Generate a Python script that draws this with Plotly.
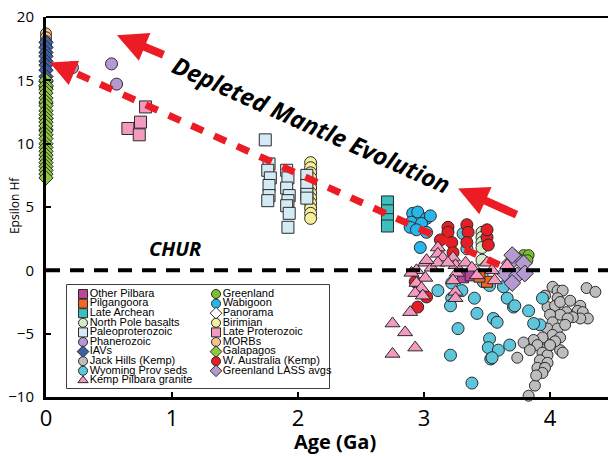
import plotly.graph_objects as go

# ---------------- data (Age in Ga, epsilon Hf) ----------------
morbs_age = [0, 0, 0, 0]
morbs_eps = [18.7, 18.4, 18.1, 17.8]

iavs_age = [0, 0, 0, 0, 0, 0, 0, 0, 0, 0, 0, 0, 0]
iavs_eps = [18.0, 17.6, 17.2, 16.9, 16.5, 16.2, 15.8, 15.3, 14.9, 14.5, 13.2, 12.0, 11.1]

galap_age = [0, 0, 0, 0, 0, 0, 0, 0, 0, 0, 0, 0, 0, 0, 0, 0, 0, 0, 0, 0, 0, 0, 0, 0, 0]
galap_eps = [15.0, 14.6, 14.3, 14.0, 13.6, 13.3, 13.0, 12.6, 12.3, 12.0, 11.7, 11.4, 11.0,
             10.7, 10.4, 10.0, 9.7, 9.4, 9.1, 8.8, 8.5, 8.2, 7.9, 7.6, 7.3]

phan_age = [0.21, 0.52, 0.56]
phan_eps = [16.0, 16.3, 14.7]

lprot_age = [0.79, 0.75, 0.65, 0.74]
lprot_eps = [12.9, 11.7, 11.2, 10.7]

birim_age = [2.10, 2.10, 2.10, 2.10, 2.10, 2.10, 2.10, 2.10, 2.10, 2.10, 2.10, 2.10]
birim_eps = [8.5, 8.1, 7.7, 7.3, 6.9, 6.5, 6.1, 5.7, 5.3, 4.9, 4.5, 4.1]

paleo_age = [1.74, 1.77, 1.76, 1.78, 1.77, 1.77, 1.76,
             1.91, 1.92, 1.91, 1.93, 1.92, 1.91, 1.93, 1.92,
             2.07, 2.07, 2.07, 2.07]
paleo_eps = [10.3, 8.4, 7.9, 7.3, 6.7, 5.9, 5.5,
             7.9, 7.3, 6.5, 5.9, 5.5, 5.1, 4.5, 3.4,
             7.5, 6.7, 6.0, 5.7]

larch_age = [2.71, 2.71, 2.71, 2.71]
larch_eps = [5.4, 4.7, 4.0, 3.5]

jack_age = [4.02, 4.06, 4.10, 4.29, 4.06, 3.98, 4.04, 4.08, 4.13, 4.08, 4.00, 4.24, 4.22,
            4.26, 4.30, 4.24, 4.18, 4.14, 4.02, 3.98, 4.06, 4.12, 4.02, 4.08, 3.94, 3.87,
            3.79, 3.90, 3.98, 4.08, 3.94, 3.98, 3.92, 3.98, 3.90, 3.96, 3.94, 3.74, 4.10,
            3.88, 3.83, 4.36, 3.96, 4.16, 4.04, 3.84, 3.89, 4.00]
jack_eps = [-1.3, -1.6, -1.6, -1.4, -2.2, -2.9, -2.8, -2.5, -3.3, -3.5, -3.5, -2.8, -3.2,
            -3.3, -3.8, -3.8, -3.7, -3.8, -4.1, -4.6, -4.6, -4.3, -5.1, -5.3, -5.3, -5.5,
            -5.7, -5.9, -6.1, -6.3, -6.5, -6.7, -7.1, -7.3, -7.7, -7.7, -8.1, -6.9, -6.5,
            -9.1, -9.9, -1.7, -2.0, -2.4, -5.6, -6.3, -8.3, -5.9]

wyo_age = [3.31, 3.34, 3.11, 3.22, 3.30, 3.40, 3.42, 3.55, 3.58, 3.27, 3.21, 3.52, 3.51,
           3.59, 3.68, 3.53, 3.38, 3.66, 3.71, 3.83, 3.94, 3.92, 3.87, 3.22, 3.52,
           3.21, 3.63, 3.47, 3.54, 3.72]
wyo_eps = [2.9, 1.7, -1.6, -2.2, -1.6, -2.2, -3.4, -3.8, -4.1, -4.6, -6.7, -5.4, -6.1,
           -6.3, -5.9, -7.0, -8.9, -2.2, -2.9, -3.2, -2.2, -4.3, -4.2, -1.0, -1.2,
           -2.8, -1.3, -0.9, -6.9, -2.8]

wabi_age = [2.91, 2.95, 3.02, 2.90, 2.98, 2.89, 2.94, 3.02, 2.97, 3.05]
wabi_eps = [4.5, 4.6, 4.1, 3.8, 3.7, 3.4, 3.2, 3.0, 1.8, 4.3]

npole_age = [3.46, 3.46, 3.46, 3.46, 3.46, 3.46, 3.46]
npole_eps = [3.0, 2.6, 2.2, 1.8, 0.8, 0.0, -0.4]

wa_age = [3.19, 3.19, 3.34, 3.35, 3.13, 3.22, 3.34, 3.50, 3.51, 3.50, 2.93, 3.02, 2.95, 3.23]
wa_eps = [3.4, 3.0, 3.6, 3.0, 2.4, 2.2, 2.2, 2.6, 2.0, 3.2, -0.9, -2.1, -2.9, 1.4]

green_age = [3.79, 3.83, 3.82, 3.75]
green_eps = [1.2, 1.2, 0.8, 0.9]

lass_age = [3.72, 3.68, 3.79, 3.64, 3.74, 3.80, 3.70, 3.70]
lass_eps = [1.0, 0.55, 0.55, -0.25, -0.4, -0.25, -1.0, 1.2]

pano_age = [3.41, 3.48]
pano_eps = [0.0, 0.3]

opil_age = [3.31, 3.37]
opil_eps = [-0.55, -0.4]

pilg_age = [3.50, 3.44]
pilg_eps = [-0.9, -0.5]

kemp_age = [3.01, 2.94, 3.06, 2.90, 3.01, 2.94, 2.98, 2.93, 2.99, 2.89, 3.11, 3.11, 3.15,
            3.11, 3.23, 3.25, 3.26, 3.23, 3.25, 3.25, 3.33, 3.38, 3.42, 3.50, 3.54, 3.56,
            3.66, 2.75, 2.85, 2.75, 2.93, 3.02, 3.19]
kemp_eps = [0.6, 0.0, 0.2, -0.2, -0.6, -1.0, -1.4, -1.8, -2.0, -3.3, 1.8, 1.3, 1.0,
            0.6, 1.0, 0.4, -0.2, -0.8, -1.7, -2.2, 0.6, 0.2, -0.4, 0.6, 0.0, -0.8,
            0.4, -4.2, -4.9, -6.6, -6.1, 0.8, 0.6]

x_ticks = [0, 1, 2, 3, 4]
y_ticks = [-10, -5, 0, 5, 10, 15, 20]

legend_col1 = ["Other Pilbara", "Pilgangoora", "Late Archean", "North Pole basalts",
               "Paleoproterozoic", "Phanerozoic", "IAVs", "Jack Hills (Kemp)",
               "Wyoming Prov seds", "Kemp Pilbara granite"]
legend_col2 = ["Greenland", "Wabigoon", "Panorama", "Birimian", "Late Proterozoic",
               "MORBs", "Galapagos", "W. Australia (Kemp)", "Greenland LASS avgs"]

# ---------------- styles ----------------
STY = {
    "Other Pilbara": ("square", "#b8479b", 11),
    "Pilgangoora": ("square", "#f26522", 11),
    "Late Archean": ("square", "#3dbfbf", 12),
    "North Pole basalts": ("circle", "#d6ecc8", 12),
    "Paleoproterozoic": ("square", "#d4ebf5", 12),
    "Phanerozoic": ("circle", "#b49ad0", 12),
    "IAVs": ("diamond", "#3b60a8", 11),
    "Jack Hills (Kemp)": ("circle", "#bdbdbd", 11),
    "Wyoming Prov seds": ("circle", "#5ec6dc", 12),
    "Kemp Pilbara granite": ("triangle-up", "#f49ac1", 13),
    "Greenland": ("circle", "#7bbf2f", 11),
    "Wabigoon": ("circle", "#27b6ea", 12),
    "Panorama": ("diamond", "#ffffff", 10),
    "Birimian": ("circle", "#f5ee9b", 12),
    "Late Proterozoic": ("square", "#f49ac1", 12),
    "MORBs": ("circle", "#f9c08c", 11),
    "Galapagos": ("diamond", "#8dc63f", 11),
    "W. Australia (Kemp)": ("circle", "#e31e24", 12),
    "Greenland LASS avgs": ("diamond", "#b49ad0", 13),
}

series = [
    ("MORBs", morbs_age, morbs_eps),
    ("IAVs", iavs_age, iavs_eps),
    ("Galapagos", galap_age, galap_eps),
    ("Phanerozoic", phan_age, phan_eps),
    ("Late Proterozoic", lprot_age, lprot_eps),
    ("Birimian", birim_age, birim_eps),
    ("Paleoproterozoic", paleo_age, paleo_eps),
    ("Late Archean", larch_age, larch_eps),
    ("Jack Hills (Kemp)", jack_age, jack_eps),
    ("Wyoming Prov seds", wyo_age, wyo_eps),
    ("Wabigoon", wabi_age, wabi_eps),
    ("North Pole basalts", npole_age, npole_eps),
    ("W. Australia (Kemp)", wa_age, wa_eps),
    ("Greenland", green_age, green_eps),
    ("Greenland LASS avgs", lass_age, lass_eps),
    ("Panorama", pano_age, pano_eps),
    ("Other Pilbara", opil_age, opil_eps),
    ("Pilgangoora", pilg_age, pilg_eps),
    ("Kemp Pilbara granite", kemp_age, kemp_eps),
]

fig = go.Figure()
for name, xs, ys in series:
    sym, col, sz = STY[name]
    fig.add_trace(go.Scatter(
        x=xs, y=ys, mode="markers", name=name, cliponaxis=False, showlegend=False,
        marker=dict(symbol=sym, color=col, size=sz, line=dict(color="#2a2a2a", width=1)),
    ))

# ---------------- custom two-column legend (on a helper axis) ----------------
row_h = 9.6
top_row = 94
lx, ly, ltxt, lsym, lcol = [], [], [], [], []
for i, n in enumerate(legend_col1):
    lx.append(16); ly.append(top_row - i * row_h); ltxt.append(n)
    lsym.append(STY[n][0]); lcol.append(STY[n][1])
for i, n in enumerate(legend_col2):
    lx.append(149); ly.append(top_row - i * row_h); ltxt.append(n)
    lsym.append(STY[n][0]); lcol.append(STY[n][1])

fig.add_trace(go.Scatter(
    x=lx, y=ly, xaxis="x2", yaxis="y2", mode="markers+text", text=ltxt,
    textposition="middle right", cliponaxis=False, showlegend=False, hoverinfo="skip",
    textfont=dict(family="Liberation Sans", size=11, color="black"),
    marker=dict(symbol=lsym, color=lcol, size=9, line=dict(color="#2a2a2a", width=1)),
))

red = "#ec1c24"
fig.update_layout(
    width=608, height=456,
    margin=dict(l=46, r=0, t=17, b=59),
    paper_bgcolor="white", plot_bgcolor="white",
    showlegend=False,
    xaxis=dict(range=[0, 4.46], tickvals=x_ticks, ticks="inside", ticklen=5, tickwidth=1.5,
               tickcolor="black", showline=True, linewidth=3, linecolor="black",
               showgrid=False, zeroline=False,
               tickfont=dict(family="Open Sans", size=22, color="black")),
    yaxis=dict(range=[-10, 20], tickvals=y_ticks, ticks="inside", ticklen=5, tickwidth=1.5,
               tickcolor="black", showline=True, linewidth=3, linecolor="black",
               showgrid=False, zeroline=False, ticklabelstandoff=6,
               tickfont=dict(family="Open Sans", size=15, color="black")),
    xaxis2=dict(domain=[0.0374, 0.5036], range=[0, 262], visible=False, anchor="y2"),
    yaxis2=dict(domain=[0.0237, 0.2947], range=[0, 103], visible=False, anchor="x2"),
    shapes=[
        dict(type="line", xref="paper", yref="paper", x0=0, x1=1, y0=1, y1=1,
             line=dict(color="black", width=2)),
        dict(type="line", xref="paper", yref="y", x0=0, x1=1, y0=0, y1=0,
             line=dict(color="black", width=4, dash="14px,10px"), layer="above"),
        dict(type="line", xref="x", yref="y", x0=0.25, y0=15.5, x1=3.64, y1=0.24,
             line=dict(color=red, width=7, dash="13px,12px"), layer="above"),
        dict(type="rect", xref="paper", yref="paper", x0=0.0374, x1=0.5036,
             y0=0.0237, y1=0.2947, line=dict(color="black", width=1.5),
             fillcolor="white", layer="below"),
    ],
    annotations=[
        dict(x=0.03, y=16.4, ax=0.23, ay=15.55, xref="x", yref="y", axref="x", ayref="y",
             text="", showarrow=True, arrowhead=2, arrowsize=0.75, arrowwidth=7,
             arrowcolor=red),
        dict(x=0.563, y=18.55, ax=0.944, ay=16.97, xref="x", yref="y", axref="x", ayref="y",
             text="", showarrow=True, arrowhead=2, arrowsize=0.75, arrowwidth=8,
             arrowcolor=red),
        dict(x=3.27, y=6.47, ax=3.746, ay=4.34, xref="x", yref="y", axref="x", ayref="y",
             text="", showarrow=True, arrowhead=2, arrowsize=0.75, arrowwidth=8,
             arrowcolor=red),
        dict(x=2.11, y=11.5, xref="x", yref="y", text="Depleted Mantle Evolution",
             showarrow=False, textangle=24,
             font=dict(family="Open Sans", size=24, color="black", weight="bold", style="italic")),
        dict(x=1.02, y=1.74, xref="x", yref="y", text="CHUR", showarrow=False,
             font=dict(family="Open Sans", size=20, color="black", weight="bold", style="italic")),
        dict(x=0.514, y=-0.116, xref="paper", yref="paper", text="Age (Ga)", showarrow=False,
             xanchor="center", yanchor="middle",
             font=dict(family="Open Sans", size=20, color="black", weight="bold")),
        dict(x=-0.057, y=0.505, xref="paper", yref="paper", text="Epsilon Hf", showarrow=False,
             textangle=-90, xanchor="center", yanchor="middle",
             font=dict(family="Open Sans", size=12, color="black")),
    ],
)

fig.write_html(
    "out.html",
    config={"displayModeBar": False},
    post_script="document.body.style.margin='0';document.body.style.overflow='hidden';",
)
